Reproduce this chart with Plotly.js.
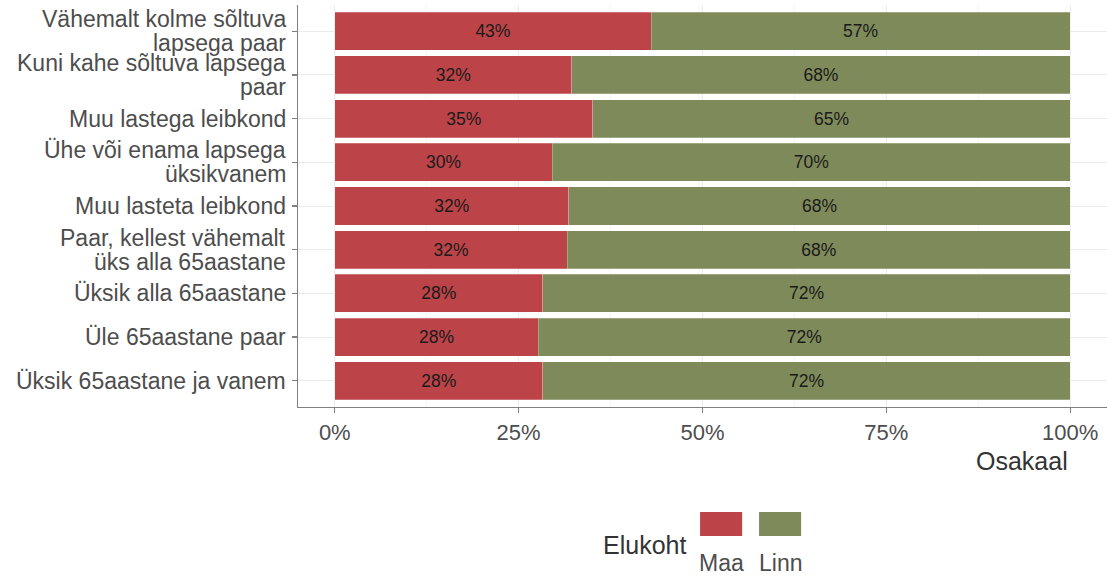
<!DOCTYPE html>
<html>
<head>
<meta charset="utf-8">
<script src="https://cdn.plot.ly/plotly-3.0.1.min.js"></script>
<style>html,body{margin:0;padding:0;background:#fff;}</style>
</head>
<body>
<div id="chart" style="width:1108px;height:577px;"></div>
<script>
const categories = [
  "Vähemalt kolme sõltuva<br>lapsega paar",
  "Kuni kahe sõltuva lapsega<br>paar",
  "Muu lastega leibkond",
  "Ühe või enama lapsega<br>üksikvanem",
  "Muu lasteta leibkond",
  "Paar, kellest vähemalt<br>üks alla 65aastane",
  "Üksik alla 65aastane",
  "Üle 65aastane paar",
  "Üksik 65aastane ja vanem"
];
const maa  = [0.430, 0.322, 0.351, 0.296, 0.318, 0.316, 0.283, 0.277, 0.283];
const linn = [0.570, 0.678, 0.649, 0.704, 0.682, 0.684, 0.717, 0.723, 0.717];
const seriesNames = ["Maa", "Linn"];
const seriesColors = ["#BC4448", "#7F8A5A"];
const xTickVals = [0, 0.25, 0.5, 0.75, 1];
const xTickText = ["0%", "25%", "50%", "75%", "100%"];
const axisTitle = "Osakaal";
const legendTitle = "Elukoht";

const FONT = "Liberation Sans, Arial, sans-serif";
const seriesValues = [maa, linn];

const traces = seriesNames.map((name, i) => ({
  type: "bar",
  orientation: "h",
  name: name,
  y: categories,
  x: seriesValues[i],
  width: 0.87,
  marker: { color: seriesColors[i], line: { color: "rgba(255,255,255,0.5)", width: 0.5 } },
  texttemplate: "%{x:.0%}",
  textposition: "inside",
  insidetextanchor: "middle",
  textangle: 0,
  constraintext: "none",
  textfont: { family: FONT, size: 17.5, color: "#1a1a1a" },
  hoverinfo: "skip",
  showlegend: false
}));

const annotations = [];
// y tick labels (tight line spacing)
categories.forEach((c) => {
  const lines = c.split("<br>");
  const n = lines.length;
  lines.forEach((ln, j) => {
    const off = (j - (n - 1) / 2) * 24;
    annotations.push({
      xref: "paper", yref: "y", x: 0, y: c,
      xanchor: "right", yanchor: "middle",
      xshift: -10, yshift: -off,
      text: ln, showarrow: false,
      font: { family: FONT, size: 23, color: "#4d4d4d" }
    });
  });
});
// x axis title
annotations.push({
  xref: "x", yref: "paper", x: 1, y: -0.134,
  xanchor: "right", yanchor: "middle",
  text: axisTitle, showarrow: false,
  font: { family: FONT, size: 25, color: "#333333" }
});
// legend
annotations.push({
  xref: "paper", yref: "paper", x: 0.482, y: -0.343,
  xanchor: "right", yanchor: "middle",
  text: legendTitle, showarrow: false,
  font: { family: FONT, size: 25, color: "#333333" }
});
const shapes = [];
seriesNames.forEach((name, i) => {
  const x0 = 0.497 + i * 0.0729;
  shapes.push({
    type: "rect", xref: "paper", yref: "paper",
    x0: x0, x1: x0 + 0.052, y0: -0.321, y1: -0.261,
    fillcolor: seriesColors[i], line: { width: 0 }
  });
  annotations.push({
    xref: "paper", yref: "paper", x: x0 + 0.026, y: -0.388,
    xanchor: "center", yanchor: "middle",
    text: name, showarrow: false,
    font: { family: FONT, size: 23, color: "#4d4d4d" }
  });
});

const layout = {
  width: 1108, height: 577,
  margin: { l: 298, r: 1, t: 5, b: 170 },
  paper_bgcolor: "#ffffff", plot_bgcolor: "#ffffff",
  barmode: "stack",
  showlegend: false,
  font: { family: FONT },
  xaxis: {
    range: [-0.05, 1.05],
    tickvals: xTickVals, ticktext: xTickText,
    showgrid: true, gridcolor: "#ebebeb", gridwidth: 1,
    minor: { tick0: 0, dtick: 0.125, showgrid: true, gridcolor: "#f5f5f5", gridwidth: 1, ticks: "" },
    zeroline: false,
    showline: true, linecolor: "#808080", linewidth: 1.2,
    ticks: "outside", ticklen: 5, tickcolor: "#808080", tickwidth: 1.2,
    tickfont: { family: FONT, size: 22, color: "#4d4d4d" },
    fixedrange: true
  },
  yaxis: {
    type: "category",
    categoryorder: "array", categoryarray: categories,
    range: [8.6, -0.6],
    showgrid: true, gridcolor: "#ebebeb", gridwidth: 1,
    zeroline: false,
    showline: true, linecolor: "#808080", linewidth: 1.2,
    ticks: "outside", ticklen: 5, tickcolor: "#808080", tickwidth: 1.2,
    showticklabels: false,
    fixedrange: true
  },
  annotations: annotations,
  shapes: shapes
};

Plotly.newPlot("chart", traces, layout, { displayModeBar: false, staticPlot: true });
</script>
</body>
</html>
